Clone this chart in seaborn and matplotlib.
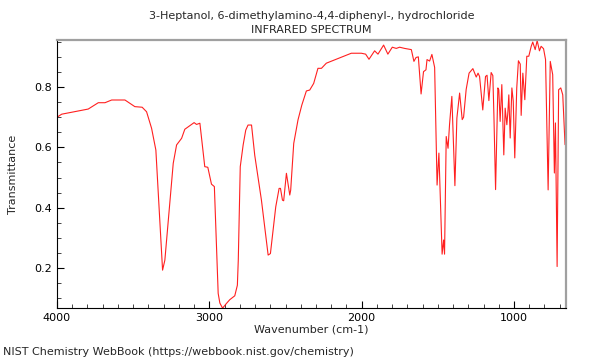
import matplotlib
matplotlib.use("Agg")
import matplotlib.pyplot as plt
from matplotlib.ticker import MultipleLocator
import seaborn as sns
import pandas as pd

title_line1 = "3-Heptanol, 6-dimethylamino-4,4-diphenyl-, hydrochloride"
title_line2 = "INFRARED SPECTRUM"
x_label = "Wavenumber (cm-1)"
y_label = "Transmittance"
footer = "NIST Chemistry WebBook (https://webbook.nist.gov/chemistry)"

wavenumber = [
    4000, 3969, 3795, 3729, 3685, 3641, 3554, 3489, 3441, 3412,
    3379, 3351, 3307, 3292, 3237, 3215, 3182, 3161, 3100, 3084,
    3062, 3030, 3010, 2986, 2967, 2942, 2931, 2913, 2887, 2866,
    2833, 2816, 2810, 2797, 2778, 2761, 2746, 2723, 2702, 2658,
    2614, 2599, 2564, 2542, 2533, 2520, 2512, 2494, 2472, 2466,
    2446, 2418, 2393, 2363, 2341, 2315, 2287, 2264, 2232, 2068,
    2002, 1974, 1952, 1915, 1893, 1856, 1828, 1799, 1773, 1751,
    1718, 1674, 1657, 1643, 1628, 1610, 1594, 1578, 1571, 1554,
    1539, 1521, 1505, 1493, 1472, 1462, 1456, 1445, 1433, 1423,
    1408, 1388, 1375, 1357, 1340, 1331, 1314, 1295, 1270, 1248,
    1236, 1226, 1205, 1187, 1177, 1165, 1150, 1139, 1132, 1121,
    1106, 1100, 1091, 1080, 1067, 1058, 1047, 1040, 1034, 1025,
    1014, 1005, 995, 982, 971, 959, 953, 942, 929, 916,
    903, 887, 877, 861, 848, 833, 822, 806, 793, 776,
    762, 746, 735, 728, 717, 707, 693, 680, 665,
]
transmittance = [
    0.700, 0.710, 0.727, 0.748, 0.748, 0.757, 0.757, 0.735, 0.733, 0.718,
    0.663, 0.591, 0.193, 0.226, 0.547, 0.608, 0.630, 0.660, 0.682, 0.676,
    0.680, 0.536, 0.534, 0.478, 0.470, 0.116, 0.084, 0.067, 0.083, 0.095,
    0.108, 0.143, 0.226, 0.536, 0.608, 0.657, 0.674, 0.674, 0.574, 0.425,
    0.243, 0.248, 0.403, 0.464, 0.464, 0.425, 0.423, 0.514, 0.442, 0.458,
    0.613, 0.691, 0.740, 0.787, 0.790, 0.812, 0.862, 0.862, 0.879, 0.912,
    0.912, 0.909, 0.892, 0.920, 0.909, 0.939, 0.909, 0.932, 0.928, 0.932,
    0.928, 0.924, 0.885, 0.898, 0.900, 0.777, 0.851, 0.857, 0.891, 0.886,
    0.908, 0.865, 0.475, 0.581, 0.246, 0.293, 0.246, 0.636, 0.597, 0.677,
    0.769, 0.473, 0.697, 0.780, 0.692, 0.700, 0.792, 0.846, 0.861, 0.833,
    0.846, 0.835, 0.724, 0.835, 0.839, 0.755, 0.848, 0.838, 0.708, 0.460,
    0.797, 0.791, 0.686, 0.808, 0.575, 0.730, 0.675, 0.719, 0.774, 0.631,
    0.797, 0.753, 0.565, 0.797, 0.887, 0.876, 0.706, 0.846, 0.758, 0.902,
    0.902, 0.935, 0.949, 0.924, 0.954, 0.920, 0.935, 0.927, 0.891, 0.459,
    0.885, 0.841, 0.515, 0.681, 0.205, 0.791, 0.797, 0.774, 0.609,
]

y_ticks = [0.2, 0.4, 0.6, 0.8]
x_ticks = [4000, 3000, 2000, 1000]

df = pd.DataFrame({"wavenumber": wavenumber, "transmittance": transmittance})

sns.set_style("white")
plt.rcParams["font.family"] = ["DejaVu Sans"]

fig = plt.figure(figsize=(6, 3.6), dpi=100)
ax = fig.add_axes([0.095, 0.144, 0.848, 0.745])

sns.lineplot(data=df, x="wavenumber", y="transmittance", sort=False,
             color="#ff2020", linewidth=0.8, ax=ax, estimator=None)

ax.set_xlim(4000, 660)
ax.set_ylim(0.067, 0.956)
ax.set_xticks(x_ticks)
ax.set_xticklabels([str(t) for t in x_ticks])
ax.set_yticks(y_ticks)
ax.set_yticklabels([f"{t:.1f}" for t in y_ticks])
ax.xaxis.set_minor_locator(MultipleLocator(100))
ax.yaxis.set_minor_locator(MultipleLocator(0.05))
ax.tick_params(axis="both", which="major", direction="in", length=5, width=0.8,
               labelsize=8, colors="black", bottom=True, left=True, top=False, right=False)
ax.tick_params(axis="both", which="minor", direction="in", length=3, width=0.6,
               bottom=True, left=True, top=False, right=False)

for side in ["left", "bottom"]:
    ax.spines[side].set_color("black")
    ax.spines[side].set_linewidth(0.8)
for side in ["top", "right"]:
    ax.spines[side].set_color("#a0a0a0")
    ax.spines[side].set_linewidth(1.6)

ax.set_xlabel(x_label, fontsize=8, labelpad=1)
ax.set_ylabel(y_label, fontsize=8, labelpad=12)
ax.set_title(title_line1 + "\n" + title_line2, fontsize=8, pad=5, linespacing=1.45)

fig.text(0.005, 0.022, footer, fontsize=8, ha="left", va="center")

fig.savefig("out.png", dpi=100)
